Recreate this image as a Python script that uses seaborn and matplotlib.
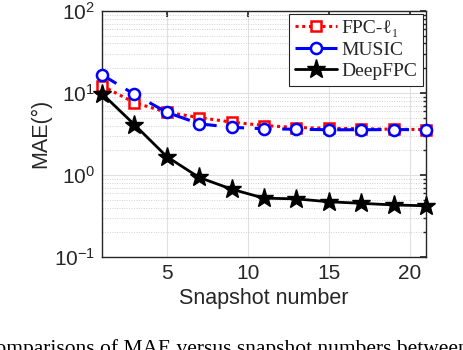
import matplotlib
matplotlib.use("Agg")
import matplotlib.pyplot as plt
import seaborn as sns
import pandas as pd
import numpy as np
from matplotlib.ticker import LogLocator, FixedLocator, NullFormatter

snapshots = [1, 3, 5, 7, 9, 11, 13, 15, 17, 19, 21]
fpc_l1 = [12.2, 7.6, 5.8, 5.0, 4.4, 4.0, 3.78, 3.7, 3.65, 3.6, 3.57]
music = [16.6, 9.6, 5.8, 4.2, 3.8, 3.65, 3.6, 3.55, 3.55, 3.57, 3.55]
deepfpc = [9.8, 4.1, 1.67, 0.93, 0.67, 0.52, 0.51, 0.47, 0.45, 0.43, 0.42]
series_names = ["FPC-ℓ₁", "MUSIC", "DeepFPC"]
x_ticks = [5, 10, 15, 20]

sns.set_theme(style="white")
plt.rcParams["font.family"] = ["Liberation Sans", "DejaVu Sans"]
plt.rcParams["mathtext.fontset"] = "custom"
plt.rcParams["mathtext.rm"] = "Liberation Sans"
plt.rcParams["mathtext.it"] = "Liberation Sans:italic"

df = pd.DataFrame({
    "x": snapshots * 3,
    "y": fpc_l1 + music + deepfpc,
    "method": [series_names[0]] * len(snapshots) + [series_names[1]] * len(snapshots) + [series_names[2]] * len(snapshots),
})

fig = plt.figure(figsize=(4.64, 3.5), dpi=100)
ax = fig.add_axes([0.2198, 0.266, 0.918 - 0.2198, 0.969 - 0.266])

styles = {
    series_names[0]: dict(color=(1, 0, 0), linestyle=(0, (1, 1.2)), marker="s", mfc="white", ms=7, mew=1.8, lw=2.2),
    series_names[1]: dict(color=(0, 0, 1), linestyle=(0, (5.5, 3.5)), marker="o", mfc="white", ms=8, mew=1.8, lw=2.2),
    series_names[2]: dict(color="black", linestyle="-", marker="*", mfc="black", ms=14, mew=1, lw=2.0),
}
for name in series_names:
    st = styles[name]
    sns.lineplot(data=df[df["method"] == name], x="x", y="y", ax=ax,
                 color=st["color"], linestyle=st["linestyle"], marker=st["marker"],
                 markerfacecolor=st["mfc"], markeredgecolor=st["color"],
                 markersize=st["ms"], markeredgewidth=st["mew"], linewidth=st["lw"],
                 label=name, clip_on=False, zorder=3)

ax.set_yscale("log")
ax.set_ylim(0.1, 100)
ax.set_xlim(1, 21)
ax.xaxis.set_major_locator(FixedLocator(x_ticks))
ax.yaxis.set_major_locator(LogLocator(base=10, numticks=10))
ax.yaxis.set_minor_locator(LogLocator(base=10, subs=np.arange(2, 10), numticks=20))
ax.yaxis.set_minor_formatter(NullFormatter())

ax.grid(True, which="major", color=(0.88, 0.88, 0.88), linewidth=0.8, linestyle="-")
ax.grid(True, which="minor", axis="y", color=(0.82, 0.82, 0.82), linewidth=0.7, linestyle=(0, (1, 1.5)))
ax.set_axisbelow(True)

for sp in ax.spines.values():
    sp.set_color((0.15, 0.15, 0.15))
    sp.set_linewidth(1.0)
ax.tick_params(which="both", direction="in", top=True, right=True, colors=(0.15, 0.15, 0.15),
               labelcolor=(0.15, 0.15, 0.15), labelsize=15)
ax.tick_params(which="major", length=4, pad=5)
ax.tick_params(which="minor", length=2)

ax.set_xlabel("Snapshot number", fontsize=15.5, color=(0.15, 0.15, 0.15), labelpad=4)
ax.set_ylabel("MAE(°)", fontsize=15.5, color=(0.15, 0.15, 0.15), labelpad=2)

leg = ax.legend(loc="upper right", frameon=True, fancybox=False, framealpha=1,
                edgecolor=(0.15, 0.15, 0.15), prop={"family": ["Liberation Serif", "DejaVu Serif"], "size": 14},
                handlelength=2.2, handletextpad=0.2, borderpad=0.3, labelspacing=0.2,
                borderaxespad=0.15)
leg.get_frame().set_linewidth(0.8)

fig.text(-0.04, -0.025, "Comparisons of MAE versus snapshot numbers between", fontsize=15.5,
         family=["Liberation Serif", "DejaVu Serif"], ha="left", va="bottom", color="black")

fig.savefig("out.png", dpi=100)
